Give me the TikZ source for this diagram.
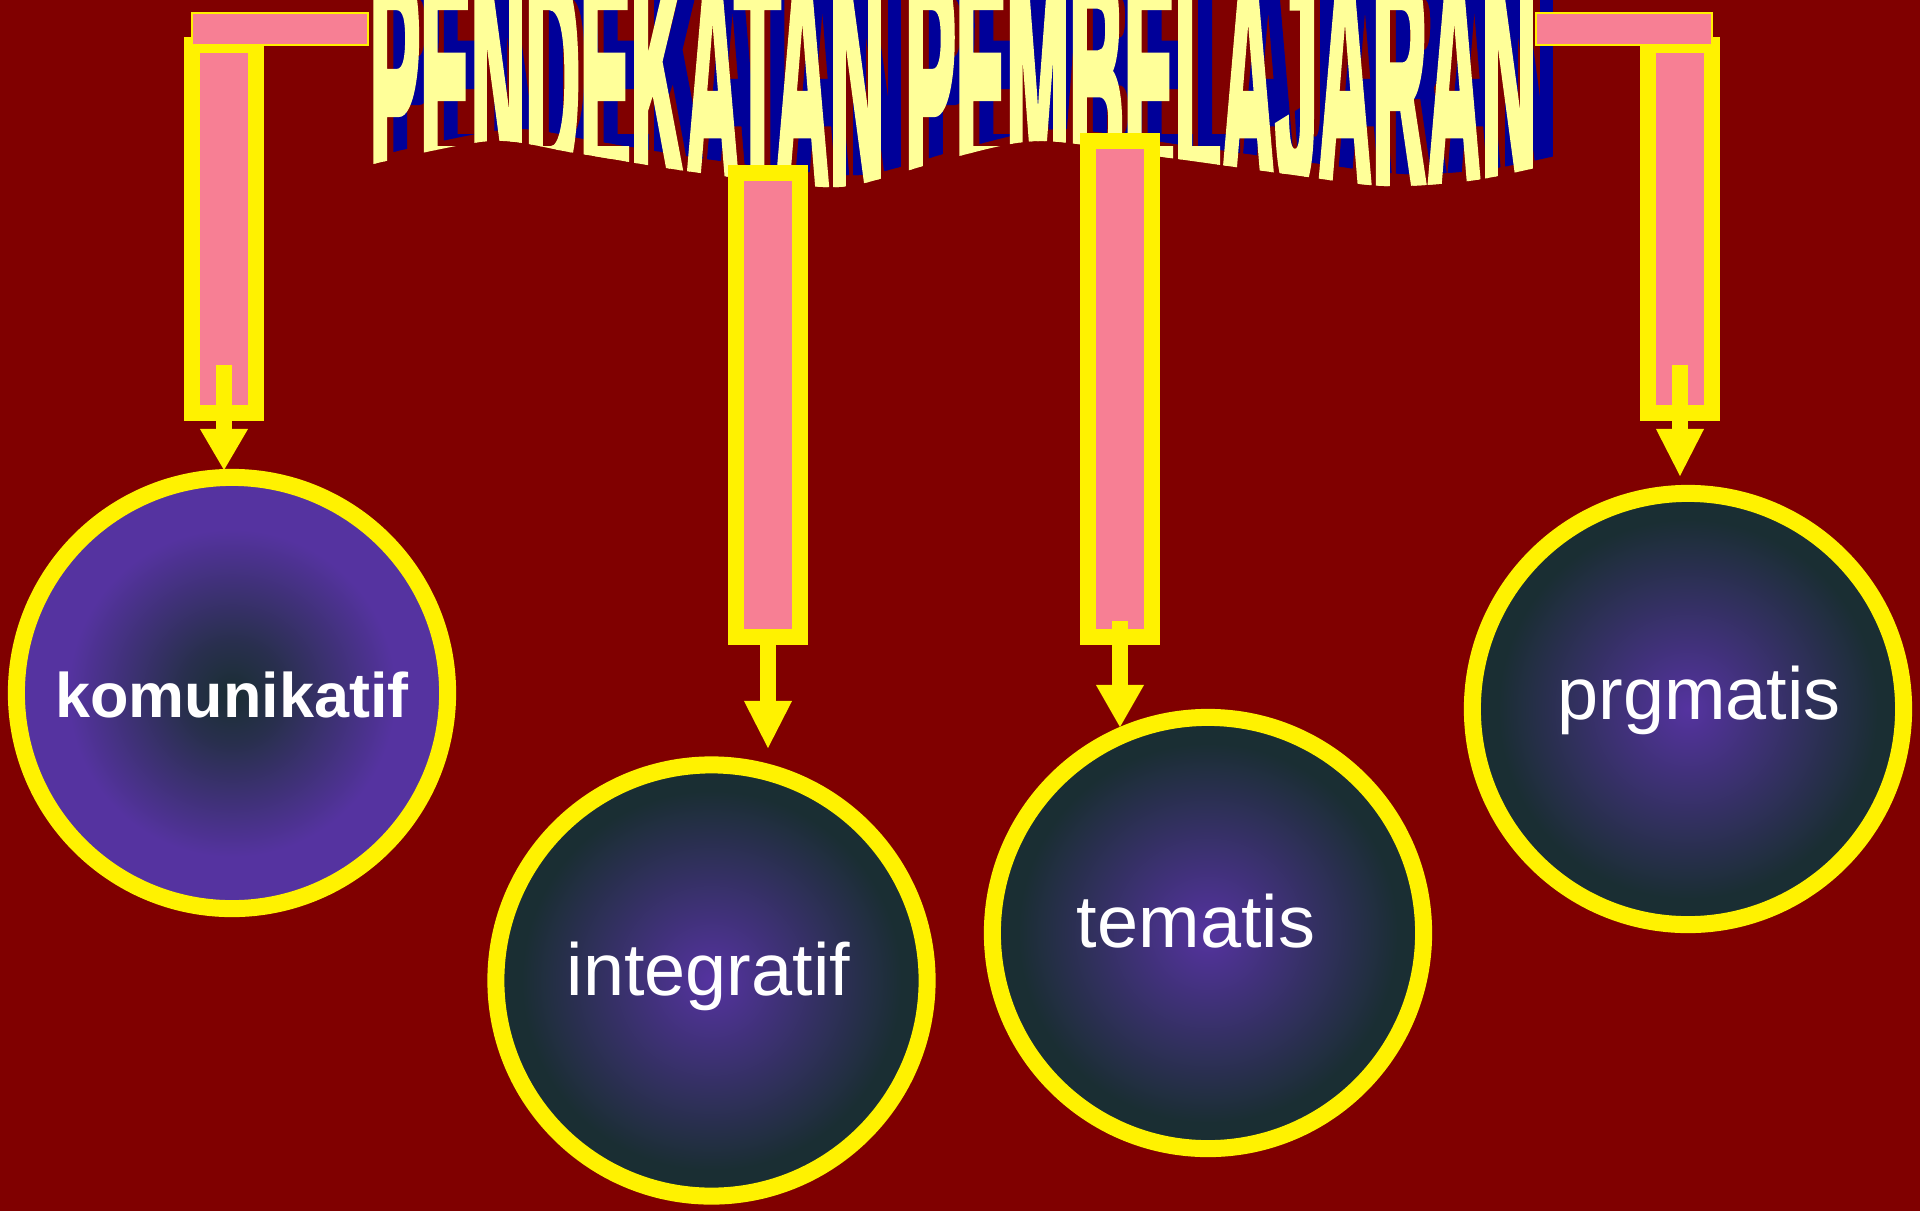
\documentclass[tikz,border=0pt]{standalone}
\usepackage{fontspec}
\setmainfont{Liberation Sans}
\newfontfamily\ttlfont[BoldFeatures={FakeBold=4}]{Liberation Sans}
\usetikzlibrary{arrows.meta}
\definecolor{bg}{HTML}{800000}
\definecolor{pinkc}{HTML}{F77F94}
\definecolor{ttl}{HTML}{FFFF99}
\definecolor{shd}{HTML}{000099}
\definecolor{pu}{HTML}{5533A0}
\definecolor{dk}{HTML}{1A2E33}
\colorlet{mixc}{dk!75!pu}
\pgfdeclareradialshading{darkcenter}{\pgfpoint{0bp}{0bp}}{color(0bp)=(dk); color(6bp)=(mixc); color(19bp)=(pu); color(50bp)=(pu)}
\pgfdeclareradialshading{lightcenter}{\pgfpoint{0bp}{0bp}}{color(0bp)=(pu); color(22bp)=(dk); color(50bp)=(dk)}
\tikzset{
  colbox/.style={draw=yellow, line width=0.16cm, fill=pinkc, inner sep=0pt, minimum width=0.64cm},
  barbox/.style={draw=yellow, line width=0.02cm, fill=pinkc, inner sep=0pt, minimum width=1.76cm, minimum height=0.32cm},
  circ/.style={circle, draw=yellow, line width=0.17cm, inner sep=0pt, minimum size=4.31cm, shade},
  arr/.style={draw=yellow, line width=0.16cm, -{Triangle[width=0.48cm, length=#1, line width=0pt]}},
  lbl/.style={text=white, inner sep=0pt, anchor=base, font=\fontsize{21}{25}\selectfont},
  ttltext/.style={inner sep=0pt, anchor=south west}
}
\begin{document}
\begin{tikzpicture}[x=0.01cm, y=-0.01cm]
\useasboundingbox (0,0) rectangle (1920,1211);
\fill[bg] (0,0) rectangle (1920,1211);

% title shadow
\begin{scope}
\clip (320,-80) -- (320,153) -- plot[smooth] coordinates {(389,153) (510,129) (595,141) (706,159) (828,174) (880,172) (975,145) (1061,129) (1183,145) (1306,162) (1404,174) (1489,169) (1555,156)} -- (1620,156) -- (1620,-80) -- cycle;
\node[ttltext, text=shd] (titleshadow) at (389,180) {\resizebox{11.66cm}{2.2cm}{\ttlfont\bfseries PENDEKATAN PEMBELAJARAN}};
\end{scope}
% title
\begin{scope}
\clip (300,-80) -- (300,165) -- plot[smooth] coordinates {(369,165) (490,141) (575,153) (686,171) (808,186) (860,184) (955,157) (1041,141) (1163,157) (1286,174) (1384,186) (1469,181) (1535,168)} -- (1600,168) -- (1600,-80) -- cycle;
\node[ttltext, text=ttl] (title) at (369,192) {\resizebox{11.66cm}{2.2cm}{\ttlfont\bfseries PENDEKATAN PEMBELAJARAN}};
\end{scope}

% columns
\node[colbox, minimum height=3.68cm] (colL) at (224,229) {};
\node[colbox, minimum height=4.64cm] (colML) at (768,405) {};
\node[colbox, minimum height=4.96cm] (colMR) at (1120,389) {};
\node[colbox, minimum height=3.68cm] (colR) at (1680,229) {};
% bars
\node[barbox] (barL) at (280,29) {};
\node[barbox] (barR) at (1624,29) {};

% circles
\node[circ, shading=darkcenter] (cK) at (232,693) {};
\node[circ, shading=lightcenter] (cI) at (711.5,980.5) {};
\node[circ, shading=lightcenter] (cT) at (1208,933) {};
\node[circ, shading=lightcenter] (cP) at (1688,709) {};

% labels
\node[lbl, font=\fontsize{17.9}{21}\selectfont\bfseries] (tK) at (232,717) {komunikatif};
\node[lbl] (tI) at (708.5,995) {integratif};
\node[lbl] (tT) at (1196,947) {tematis};
\node[lbl] (tP) at (1699,719) {prgmatis};

% arrows
\coordinate (sL) at (224,365);  \coordinate (eL) at (224,470);
\coordinate (sML) at (768,630); \coordinate (eML) at (768,748);
\coordinate (sMR) at (1120,621); \coordinate (eMR) at (1120,727);
\coordinate (sR) at (1680,365); \coordinate (eR) at (1680,476);
\draw[arr=0.41cm] (sL) -- (eL);
\draw[arr=0.47cm] (sML) -- (eML);
\draw[arr=0.42cm] (sMR) -- (eMR);
\draw[arr=0.47cm] (sR) -- (eR);
\end{tikzpicture}
\end{document}
